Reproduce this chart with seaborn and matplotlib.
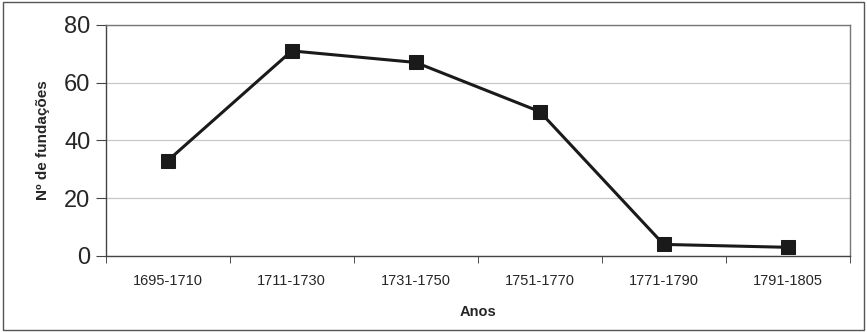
import matplotlib
matplotlib.use("Agg")
import matplotlib.pyplot as plt
import seaborn as sns
import pandas as pd
import numpy as np

periods = ['1695-1710', '1711-1730', '1731-1750', '1751-1770', '1771-1790', '1791-1805']
fundacoes = [33, 71, 67, 50, 4, 3]
y_ticks = [0, 20, 40, 60, 80]

df = pd.DataFrame({'Anos': periods, 'fundacoes': fundacoes})

sns.set_style('white')
plt.rcParams['font.family'] = ['Liberation Sans', 'DejaVu Sans']

fig = plt.figure(figsize=(8.67, 3.32), dpi=100)
ax = fig.add_axes([0.122, 0.229, 0.858, 0.696])

sns.lineplot(data=df, x='Anos', y='fundacoes', ax=ax, color='#1a1a1a', linewidth=2.2,
             marker='s', markersize=10, markeredgecolor='#1a1a1a', sort=False)

ax.set_ylim(0, 80)
ax.set_xlim(-0.5, len(periods) - 0.5)
ax.set_yticks(y_ticks)
ax.set_yticklabels([str(v) for v in y_ticks], fontsize=17)
ax.yaxis.grid(True, color='#c8c8c8', linewidth=0.9)
ax.set_axisbelow(True)

ax.set_xticks(range(len(periods)))
ax.set_xticklabels(periods, fontsize=10.5)
ax.set_xticks(np.arange(-0.5, len(periods)), minor=True)
ax.tick_params(axis='x', which='major', length=0, pad=13)
ax.tick_params(axis='x', which='minor', length=5, direction='out', color='#333333', bottom=True)
ax.tick_params(axis='y', length=7, direction='out', color='#444444', left=True, pad=4)

for side in ['top', 'right']:
    ax.spines[side].set_color('#777777')
    ax.spines[side].set_linewidth(1)
for side in ['left', 'bottom']:
    ax.spines[side].set_color('#444444')
    ax.spines[side].set_linewidth(1)

ax.set_xlabel('Anos', fontsize=10.5, fontweight='bold', labelpad=12)
ax.set_ylabel('Nº de fundações', fontsize=11, fontweight='bold', labelpad=10)

fig.patches.append(plt.Rectangle((0.004, 0.006), 0.992, 0.988, transform=fig.transFigure,
                                 fill=False, edgecolor='#555555', linewidth=1))

fig.savefig('out.png', dpi=100)
